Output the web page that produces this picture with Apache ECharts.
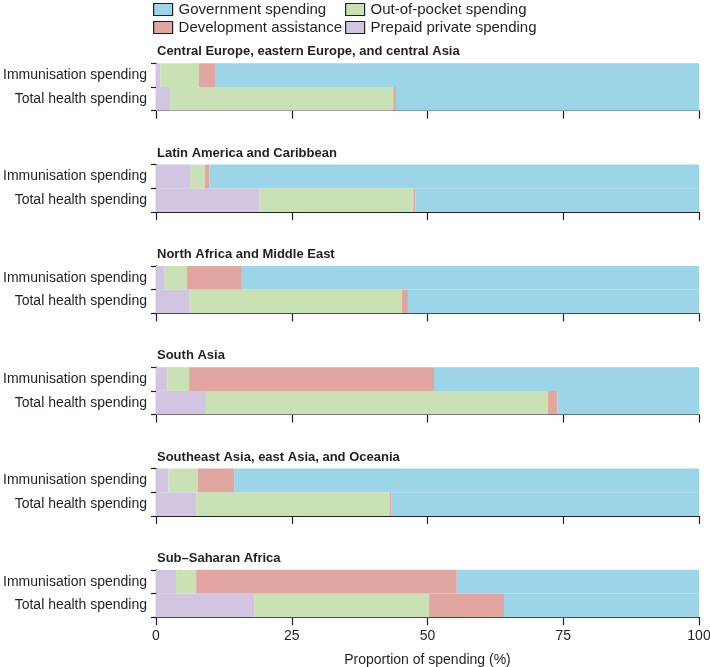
<!DOCTYPE html>
<html><head><meta charset="utf-8">
<script src="https://cdn.jsdelivr.net/npm/echarts@6/dist/echarts.min.js"></script>
<style>html,body{margin:0;padding:0;background:#fff}#c{width:710px;height:667px}</style>
</head><body><div id="c"></div>
<script>
const categories = ['Immunisation spending', 'Total health spending'];
const regions = ['Central Europe, eastern Europe, and central Asia', 'Latin America and Caribbean', 'North Africa and Middle East', 'South Asia', 'Southeast Asia, east Asia, and Oceania', 'Sub\u2013Saharan Africa'];
const xTicks = [0, 25, 50, 75, 100];
// [immunisation, total] per region
const prepaid = [[0.8, 2.6], [6.3, 19.0], [1.6, 6.1], [2.1, 9.2], [2.3, 7.4], [3.7, 18.1]];
const outOfPocket = [[7.1, 41.1], [2.7, 28.4], [4.1, 39.2], [4.0, 63.0], [5.4, 35.6], [3.7, 32.2]];
const devAssist = [[3.1, 0.5], [0.8, 0.4], [10.1, 1.1], [45.1, 1.7], [6.7, 0.3], [48.0, 13.8]];
const government = [[89.0, 55.8], [90.2, 52.2], [84.2, 53.6], [48.8, 26.1], [85.6, 56.7], [44.6, 35.9]];

const FONT = '"Liberation Sans", Arial, sans-serif';
const colors = {gov: '#9cd5e7', oop: '#cae1b6', dah: '#e0a69f', pre: '#d2c5e1'};
const TOP0 = 63.3, STEP = 101.3, H = 47.4;
const grids = [], xAxes = [], yAxes = [], titles = [], series = [];
regions.forEach((r, i) => {
  const top = TOP0 + i * STEP;
  grids.push({left: 156, right: 11, top: top, height: H, containLabel: false, outerBoundsMode: 'none'});
  titles.push({text: r, left: 152, top: top - 23, textStyle: {fontFamily: FONT, fontSize: 13, fontWeight: 'bold', color: '#231f20'}});
  const last = i === regions.length - 1;
  xAxes.push({type: 'value', gridIndex: i, min: xTicks[0], max: xTicks[xTicks.length - 1], interval: 25,
    splitLine: {show: false},
    axisLine: {show: true, lineStyle: {color: '#231f20', width: 1.2}},
    axisTick: {show: true, length: 8, lineStyle: {color: '#231f20', width: 1.2}},
    axisLabel: {show: last, fontFamily: FONT, fontSize: 14, color: '#231f20', margin: 12},
    name: last ? 'Proportion of spending (%)' : '', nameLocation: 'middle', nameGap: 36,
    nameTextStyle: {fontFamily: FONT, fontSize: 14, color: '#231f20'}});
  yAxes.push({type: 'category', gridIndex: i, data: categories, inverse: true,
    axisLine: {show: true, lineStyle: {color: '#231f20', width: 1.2}},
    axisTick: {show: true, length: 5, lineStyle: {color: '#231f20', width: 1.2}},
    axisLabel: {fontFamily: FONT, fontSize: 14, color: '#231f20', margin: 9}});
  const mk = (name, arr, color) => ({name, type: 'bar', stack: 's' + i, xAxisIndex: i, yAxisIndex: i,
    data: arr[i], barWidth: '100%', barCategoryGap: 0, itemStyle: {color}, emphasis: {disabled: true}, animation: false, z: 1});
  series.push(mk('Prepaid private spending', prepaid, colors.pre));
  series.push(mk('Out-of-pocket spending', outOfPocket, colors.oop));
  series.push(mk('Development assistance', devAssist, colors.dah));
  series.push(mk('Government spending', government, colors.gov));
});
const legendCommon = {orient: 'vertical', icon: 'rect', itemWidth: 19, itemHeight: 12, itemGap: 3, top: 0, padding: [2, 0, 0, 0],
  textStyle: {fontFamily: FONT, fontSize: 15, color: '#231f20', padding: [0, 0, 0, 1]}, selectedMode: false,
  itemStyle: {borderColor: '#231f20', borderWidth: 1.2}};
const chart = echarts.init(document.getElementById('c'), null, {renderer: 'canvas'});
chart.setOption({
  animation: false,
  title: titles,
  legend: [
    Object.assign({}, legendCommon, {left: 153, data: ['Government spending', 'Development assistance']}),
    Object.assign({}, legendCommon, {left: 345, data: ['Out-of-pocket spending', 'Prepaid private spending']})
  ],
  grid: grids, xAxis: xAxes, yAxis: yAxes, series: series
});
</script></body></html>
